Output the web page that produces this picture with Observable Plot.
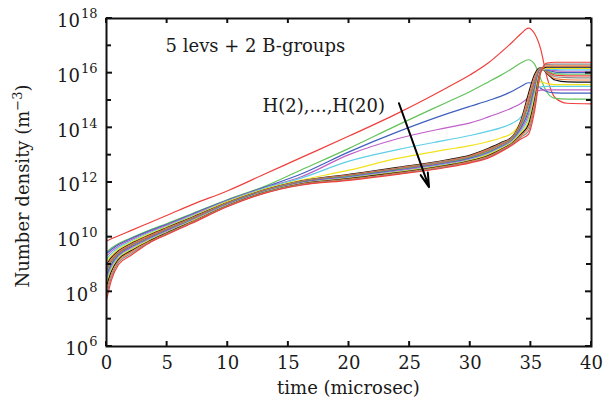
<!DOCTYPE html>
<html><head><meta charset="utf-8">
<script src="https://cdn.jsdelivr.net/npm/d3@7"></script>
<script src="https://cdn.jsdelivr.net/npm/@observablehq/plot@0.6"></script>
<style>
html,body{margin:0;padding:0;background:#fff;}
#chart svg{display:block;}
</style></head><body><div id="chart"></div>
<script>
// time (microsec)
const times = [0, 0.4, 1, 2, 3.5, 5, 7, 10, 13, 16, 20, 24, 28, 30, 31.5, 32.5, 33.5, 34.2, 34.8, 35.3, 35.8, 36.3, 37, 38, 40];
// log10 of number density (m^-3) for each level
const h2  = [9.86, 9.94, 10.05, 10.24, 10.52, 10.8, 11.18, 11.7, 12.3, 12.9, 13.7, 14.53, 15.45, 15.94, 16.38, 16.75, 17.15, 17.45, 17.65, 17.45, 16.9, 15.9, 15.1, 14.9, 14.88];
const h3  = [9.45, 9.6, 9.77, 9.97, 10.25, 10.5, 10.85, 11.38, 11.85, 12.45, 13.25, 14.1, 14.92, 15.33, 15.68, 15.92, 16.18, 16.38, 16.49, 16.33, 15.8, 15.32, 15.08, 15.05, 15.05];
const h4  = [9.4, 9.55, 9.73, 9.94, 10.22, 10.47, 10.83, 11.36, 11.82, 12.3, 13.12, 13.85, 14.5, 14.79, 15.0, 15.15, 15.35, 15.52, 15.65, 15.62, 15.45, 15.33, 15.28, 15.27, 15.27];
const h5  = [9.3, 9.48, 9.68, 9.9, 10.19, 10.44, 10.8, 11.34, 11.8, 12.2, 13.02, 13.6, 14.0, 14.18, 14.4, 14.56, 14.74, 14.9, 15.1, 15.3, 15.38, 15.39, 15.39, 15.39, 15.39];
const h6  = [9.2, 9.4, 9.62, 9.85, 10.15, 10.41, 10.77, 11.32, 11.78, 12.15, 12.78, 13.2, 13.55, 13.72, 13.88, 14.0, 14.18, 14.4, 14.95, 15.4, 15.5, 15.52, 15.52, 15.52, 15.52];
const h7  = [9.1, 9.32, 9.56, 9.8, 10.11, 10.38, 10.74, 11.3, 11.75, 12.08, 12.45, 12.88, 13.2, 13.35, 13.5, 13.63, 13.82, 14.25, 14.95, 15.5, 15.68, 15.62, 15.58, 15.58, 15.58];
const h8  = [9.0, 9.25, 9.5, 9.76, 10.07, 10.35, 10.71, 11.27, 11.72, 12.05, 12.3, 12.55, 12.82, 13.0, 13.25, 13.45, 13.7, 14.3, 15.25, 15.95, 16.2, 16.0, 15.75, 15.68, 15.67];
const h9  = [8.92, 9.2, 9.47, 9.73, 10.05, 10.33, 10.69, 11.26, 11.71, 12.04, 12.28, 12.53, 12.8, 12.98, 13.22, 13.42, 13.67, 14.24, 15.12, 15.85, 16.19, 16.02, 15.8, 15.76, 15.75];
const h10 = [8.84, 9.15, 9.44, 9.71, 10.02, 10.31, 10.68, 11.25, 11.7, 12.03, 12.26, 12.51, 12.78, 12.95, 13.19, 13.4, 13.65, 14.18, 14.98, 15.75, 16.18, 16.05, 15.87, 15.84, 15.83];
const h11 = [8.76, 9.1, 9.41, 9.68, 10.0, 10.29, 10.66, 11.23, 11.69, 12.01, 12.25, 12.49, 12.75, 12.93, 13.16, 13.37, 13.62, 14.12, 14.85, 15.65, 16.16, 16.08, 15.93, 15.9, 15.9];
const h12 = [8.68, 9.04, 9.38, 9.65, 9.97, 10.27, 10.64, 11.22, 11.68, 12.0, 12.23, 12.47, 12.73, 12.91, 13.13, 13.34, 13.6, 14.07, 14.72, 15.55, 16.15, 16.1, 15.98, 15.96, 15.96];
const h13 = [8.6, 8.99, 9.35, 9.63, 9.95, 10.25, 10.62, 11.21, 11.67, 11.99, 12.21, 12.45, 12.71, 12.88, 13.1, 13.31, 13.57, 14.01, 14.6, 15.45, 16.14, 16.12, 16.04, 16.02, 16.02];
const h14 = [8.5, 8.93, 9.31, 9.6, 9.93, 10.23, 10.61, 11.2, 11.66, 11.98, 12.19, 12.43, 12.69, 12.86, 13.08, 13.29, 13.55, 13.95, 14.48, 15.35, 16.12, 16.14, 16.09, 16.07, 16.07];
const h15 = [8.4, 8.87, 9.27, 9.56, 9.9, 10.2, 10.59, 11.18, 11.65, 11.96, 12.17, 12.4, 12.66, 12.84, 13.05, 13.26, 13.52, 13.89, 14.36, 15.25, 16.1, 16.16, 16.13, 16.12, 16.12];
const h16 = [8.3, 8.8, 9.23, 9.53, 9.88, 10.18, 10.57, 11.17, 11.64, 11.95, 12.15, 12.38, 12.64, 12.81, 13.02, 13.23, 13.49, 13.83, 14.24, 15.13, 16.08, 16.18, 16.17, 16.17, 16.17];
const h17 = [8.2, 8.74, 9.19, 9.49, 9.85, 10.16, 10.55, 11.16, 11.63, 11.94, 12.14, 12.36, 12.62, 12.79, 12.99, 13.2, 13.46, 13.77, 14.12, 15.0, 16.06, 16.22, 16.22, 16.22, 16.22];
const h18 = [8.05, 8.64, 9.14, 9.45, 9.83, 10.14, 10.54, 11.15, 11.62, 11.93, 12.12, 12.34, 12.6, 12.77, 12.96, 13.18, 13.44, 13.72, 14.0, 14.88, 16.04, 16.27, 16.27, 16.27, 16.27];
const h19 = [7.9, 8.54, 9.08, 9.39, 9.8, 10.12, 10.52, 11.13, 11.61, 11.91, 12.1, 12.32, 12.57, 12.74, 12.93, 13.15, 13.41, 13.66, 13.88, 14.75, 16.02, 16.32, 16.33, 16.33, 16.33];
const h20 = [7.7, 8.42, 9.0, 9.33, 9.78, 10.1, 10.5, 11.12, 11.6, 11.9, 12.08, 12.3, 12.55, 12.72, 12.9, 13.12, 13.38, 13.6, 13.76, 14.6, 16.0, 16.37, 16.4, 16.4, 16.4];

const levels = ["H(2)","H(3)","H(4)","H(5)","H(6)","H(7)","H(8)","H(9)","H(10)","H(11)","H(12)","H(13)","H(14)","H(15)","H(16)","H(17)","H(18)","H(19)","H(20)"];
const series = [h2,h3,h4,h5,h6,h7,h8,h9,h10,h11,h12,h13,h14,h15,h16,h17,h18,h19,h20];
const palette = ["#f0403c","#62c25a","#3f5fbf","#c05fc8","#5fcfe6","#f2e21a","#111111","#f07a3a","#8c8c8c"];
const colors = levels.map((_, i) => palette[i % palette.length]);

const xTicks = [0, 5, 10, 15, 20, 25, 30, 35, 40];
const yExponents = [6, 8, 10, 12, 14, 16, 18];
const yMinorExponents = [7, 9, 11, 13, 15, 17];

const notes = [
  {x: 4.87, y: 1e17, text: "5 levs + 2 B-groups"},
  {x: 12.87, y: 10 ** 14.78, text: "H(2),...,H(20)"}
];
const arrowData = [{x1: 24.12, y1: 10 ** 14.9, x2: 26.6, y2: 10 ** 11.83}];

const rows = levels.flatMap((lv, i) => times.map((t, j) => ({level: lv, t, n: 10 ** series[i][j]})));

const FONT = "DejaVu Serif";
const plot = Plot.plot({
  width: 605, height: 407,
  marginLeft: 106, marginRight: 14, marginTop: 18, marginBottom: 61,
  style: {fontFamily: FONT, fontSize: "18px", color: "#1a1a1a", background: "#fff"},
  x: {domain: [0, 40]},
  y: {type: "log", domain: [1e6, 1e18]},
  color: {domain: levels, range: colors},
  marks: [
    Plot.line(rows, {x: "t", y: "n", z: "level", stroke: "level", strokeWidth: 1.2, curve: "monotone-x"}),
    Plot.frame({stroke: "#111", strokeWidth: 2}),
    Plot.axisX({ticks: xTicks, tickSize: 0, tickPadding: 10, fontSize: 18, label: null}),
    Plot.axisY({ticks: yExponents.map(e => 10 ** e), tickSize: 0, tickPadding: 9, fontSize: 18, label: null,
      tickFormat: d => String(Math.round(Math.log10(d)))}),
    Plot.text(notes, {x: "x", y: "y", text: "text", textAnchor: "start", fontSize: 18, fill: "#1a1a1a"}),
    Plot.arrow(arrowData, {x1: "x1", y1: "y1", x2: "x2", y2: "y2", stroke: "#000", strokeWidth: 2, headLength: 11, headAngle: 30})
  ]
});
document.getElementById("chart").appendChild(plot);

const svg = d3.select(plot);
const xs = plot.scale("x"), ys = plot.scale("y");
const yBot = ys.apply(1e6), yTop = ys.apply(1e18);
const xL = xs.apply(0), xR = xs.apply(40);
const tg = svg.append("g").attr("stroke", "#111").attr("stroke-width", 2);
for (const t of xTicks) {
  const x = xs.apply(t);
  tg.append("line").attr("x1", x).attr("x2", x).attr("y1", yBot).attr("y2", yBot - 5);
  tg.append("line").attr("x1", x).attr("x2", x).attr("y1", yTop).attr("y2", yTop + 5);
}
for (const e of yExponents.concat(yMinorExponents)) {
  const y = ys.apply(10 ** e);
  const len = yExponents.includes(e) ? 6 : 5;
  tg.append("line").attr("x1", xL).attr("x2", xL + len).attr("y1", y).attr("y2", y);
  tg.append("line").attr("x1", xR).attr("x2", xR - len).attr("y1", y).attr("y2", y);
}
// superscript tick labels 10^n
svg.selectAll('g[aria-label="y-axis tick label"] text').each(function () {
  const s = this.textContent;
  const t = d3.select(this);
  t.text(null);
  t.append("tspan").attr("dy", "3").text("10");
  t.append("tspan").attr("dy", "-9").attr("dx", "1").attr("font-size", 13).text(s);
});
// axis labels
svg.append("text").attr("x", xs.apply(20)).attr("y", 394).attr("text-anchor", "middle")
  .attr("font-size", 18).attr("fill", "#1a1a1a").text("time (microsec)");
const yl = svg.append("text").attr("transform", `translate(29,${(yTop + yBot) / 2 + 4}) rotate(-90)`)
  .attr("text-anchor", "middle").attr("font-size", 18).attr("fill", "#1a1a1a");
yl.append("tspan").text("Number density (m");
yl.append("tspan").attr("dy", "-7").attr("font-size", 13).text("\u22123");
yl.append("tspan").attr("dy", "7").text(")");
svg.selectAll("text").attr("font-family", FONT).style("font-family", FONT);
</script></body></html>
